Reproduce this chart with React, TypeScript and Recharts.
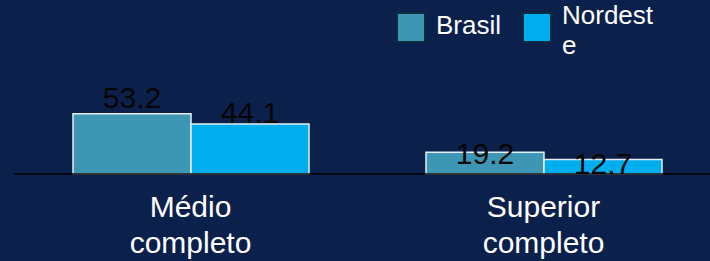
import { Bar, BarChart, LabelList, Legend, XAxis, YAxis } from "recharts";

const categories = ["Médio completo", "Superior completo"];
const brasil = [53.2, 19.2];
const nordeste = [44.1, 12.7];

const data = categories.map((c, i) => ({ cat: c, Brasil: brasil[i], Nordeste: nordeste[i] }));

const font = '"Liberation Sans", Arial, sans-serif';
const bg = "#0b214c";

// the source deck placed its value labels oddly (they drift down as values shrink)
function ValueLabel(props: any) {
  const { x, y, width, height, value } = props;
  const base = y + 20.9 - 0.4375 * height;
  return (
    <text x={x + width / 2} y={base} textAnchor="middle" fill="#050505" fontSize={30} fontFamily={font}>
      {value}
    </text>
  );
}

function CatTick(props: any) {
  const { x, y, payload } = props;
  const words = String(payload.value).split(" ");
  return (
    <text x={x} y={y} textAnchor="middle" fill="#ffffff" fontSize={30} fontFamily={font}>
      {words.map((w, i) => (
        <tspan key={w} x={x} y={y + 43 + i * 36}>
          {w}
        </tspan>
      ))}
    </text>
  );
}

function LegendBox({ payload }: any) {
  return (
    <div style={{ display: "flex", alignItems: "flex-start", fontFamily: font, fontSize: 26, color: "#fff" }}>
      {(payload || []).map((p: any) => (
        <div key={p.value} style={{ display: "flex", alignItems: "flex-start", marginRight: 21 }}>
          <div
            style={{
              width: 26,
              height: 27,
              marginTop: 12,
              background: p.color,
              border: "2px solid #0a2a3e",
              marginRight: 10,
            }}
          />
          <div
            style={{
              width: p.value === "Nordeste" ? 93 : "auto",
              wordBreak: "break-all",
              lineHeight: "30px",
              marginTop: p.value === "Nordeste" ? 0 : 10,
            }}
          >
            {p.value}
          </div>
        </div>
      ))}
    </div>
  );
}

export default function App() {
  return (
    <div style={{ position: "fixed", left: 0, top: 0, width: 710, height: 261, overflow: "hidden", background: bg }}>
      <BarChart width={720} height={261} data={data} margin={{ top: 106, right: 0, left: 14, bottom: 0 }} barGap={0}>
        <XAxis
          dataKey="cat"
          height={87}
          axisLine={{ stroke: "#000", strokeWidth: 1.5 }}
          tickLine={false}
          tickSize={0}
          tickMargin={0}
          tick={<CatTick />}
          interval={0}
        />
        <YAxis hide domain={[0, 60]} />
        <Legend
          layout="horizontal"
          verticalAlign="middle"
          content={<LegendBox />}
          wrapperStyle={{ top: 0, left: 396, width: 320 }}
        />
        <Bar dataKey="Brasil" fill="#3d96b4" stroke="#e6eef2" strokeWidth={1.5} barSize={118} isAnimationActive={false}>
          <LabelList dataKey="Brasil" content={<ValueLabel />} />
        </Bar>
        <Bar dataKey="Nordeste" fill="#00aeef" stroke="#e6eef2" strokeWidth={1.5} barSize={118} isAnimationActive={false}>
          <LabelList dataKey="Nordeste" content={<ValueLabel />} />
        </Bar>
      </BarChart>
    </div>
  );
}
